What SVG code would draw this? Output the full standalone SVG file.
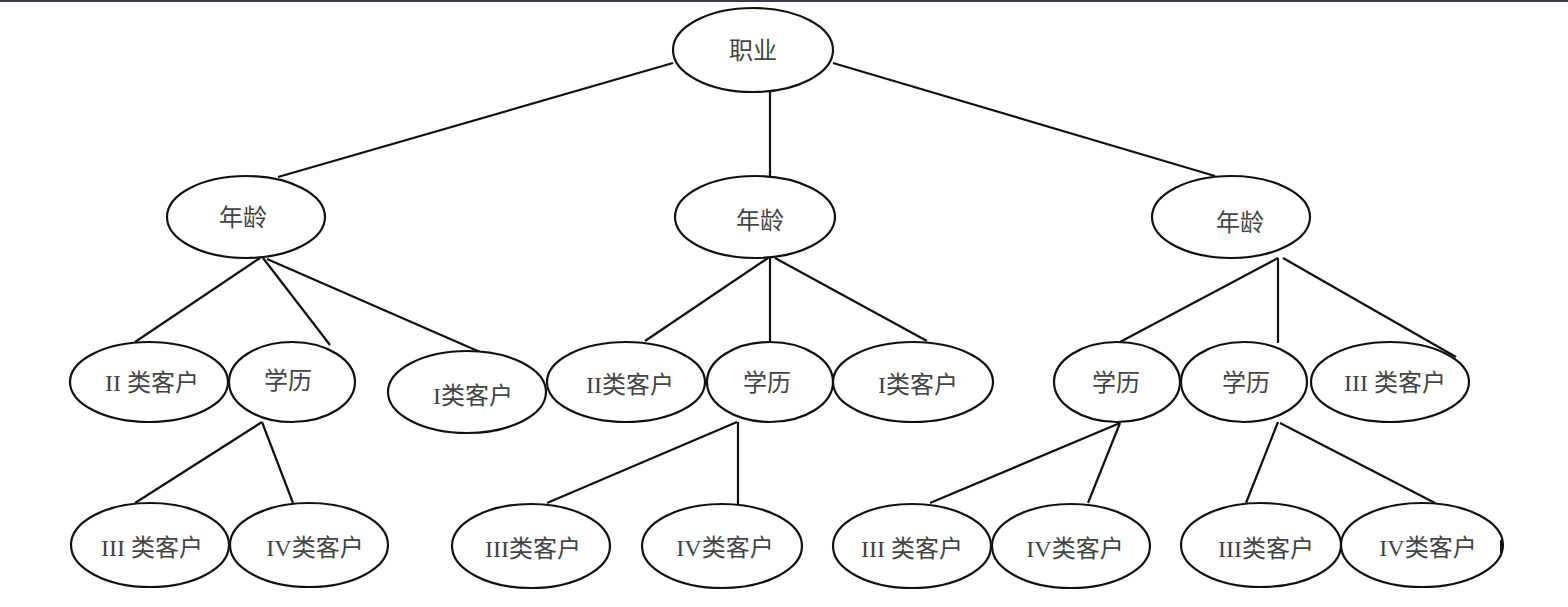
<svg xmlns="http://www.w3.org/2000/svg" width="1568" height="607" viewBox="0 0 1568 607">
<style>
.n ellipse{fill:#fff;stroke:#111;stroke-width:2.2}
.n text{font-family:"Liberation Serif","Noto Sans CJK SC",serif;font-size:24px;fill:#444;text-anchor:middle}
#edges line{stroke:#111;stroke-width:2.2}
</style>
<rect x="0" y="0" width="1568" height="607" fill="#fff"/>
<rect x="0" y="0" width="1568" height="2" fill="#3b3e46"/>
<g id="edges">
<line x1="673" y1="63" x2="278" y2="177"/>
<line x1="770" y1="92" x2="770" y2="177"/>
<line x1="833" y1="63" x2="1215" y2="176"/>
<line x1="260" y1="258" x2="135" y2="342"/>
<line x1="263" y1="258" x2="330" y2="345"/>
<line x1="267" y1="259" x2="480" y2="352"/>
<line x1="262" y1="422" x2="135" y2="503"/>
<line x1="262" y1="422" x2="293" y2="503"/>
<line x1="768" y1="258" x2="645" y2="341"/>
<line x1="770" y1="258" x2="770" y2="342"/>
<line x1="775" y1="258" x2="927" y2="341"/>
<line x1="737" y1="422" x2="547" y2="503"/>
<line x1="738" y1="422" x2="738" y2="504"/>
<line x1="1278" y1="258" x2="1120" y2="342"/>
<line x1="1278" y1="258" x2="1278" y2="343"/>
<line x1="1283" y1="258" x2="1456" y2="357"/>
<line x1="1120" y1="423" x2="930" y2="503"/>
<line x1="1120" y1="423" x2="1088" y2="503"/>
<line x1="1278" y1="422" x2="1246" y2="503"/>
<line x1="1280" y1="423" x2="1435" y2="503"/>
</g>
<g id="root" class="n"><ellipse cx="753" cy="50" rx="80" ry="42"/><text x="753" y="59">职业</text></g>
<g id="ageL" class="n"><ellipse cx="246" cy="217" rx="79" ry="41"/><text x="243" y="226">年龄</text></g>
<g id="ageM" class="n"><ellipse cx="755" cy="217" rx="80" ry="41"/><text x="760" y="229">年龄</text></g>
<g id="ageR" class="n"><ellipse cx="1231" cy="217" rx="79" ry="41"/><text x="1240" y="231">年龄</text></g>
<g id="c2L" class="n"><ellipse cx="149" cy="382" rx="79" ry="40"/><text x="152" y="391">II 类客户</text></g>
<g id="eduL" class="n"><ellipse cx="292" cy="382" rx="63" ry="40"/><text x="288" y="389">学历</text></g>
<g id="c1L" class="n"><ellipse cx="467" cy="392" rx="79" ry="41"/><text x="473" y="404">I类客户</text></g>
<g id="c2M" class="n"><ellipse cx="626" cy="382" rx="79" ry="40"/><text x="630" y="393">II类客户</text></g>
<g id="eduM" class="n"><ellipse cx="770" cy="382" rx="63" ry="40"/><text x="767" y="391">学历</text></g>
<g id="c1M" class="n"><ellipse cx="913" cy="382" rx="80" ry="40"/><text x="918" y="393">I类客户</text></g>
<g id="eduR1" class="n"><ellipse cx="1117" cy="382" rx="63" ry="40"/><text x="1116" y="391">学历</text></g>
<g id="eduR2" class="n"><ellipse cx="1244" cy="382" rx="63" ry="40"/><text x="1246" y="391">学历</text></g>
<g id="c3R" class="n"><ellipse cx="1390" cy="382" rx="79" ry="40"/><text x="1395" y="391">III 类客户</text></g>
<g id="c3L" class="n"><ellipse cx="150" cy="545" rx="79" ry="42"/><text x="152" y="556">III 类客户</text></g>
<g id="c4L" class="n"><ellipse cx="309" cy="545" rx="79" ry="42"/><text x="315" y="556">IV类客户</text></g>
<g id="c3M" class="n"><ellipse cx="531" cy="546" rx="79" ry="42"/><text x="533" y="557">III类客户</text></g>
<g id="c4M" class="n"><ellipse cx="722" cy="546" rx="80" ry="42"/><text x="725" y="556">IV类客户</text></g>
<g id="c3R1" class="n"><ellipse cx="912" cy="546" rx="79" ry="42"/><text x="912" y="557">III 类客户</text></g>
<g id="c4R1" class="n"><ellipse cx="1071" cy="546" rx="79" ry="42"/><text x="1075" y="557">IV类客户</text></g>
<g id="c3R2" class="n"><ellipse cx="1261" cy="545" rx="80" ry="42"/><text x="1266" y="557">III类客户</text></g>
<g id="c4R2" class="n"><ellipse cx="1422" cy="545" rx="81" ry="42"/><text x="1428" y="556">IV类客户</text></g>
<rect x="1500" y="540" width="3" height="13" fill="#111"/>
</svg>
